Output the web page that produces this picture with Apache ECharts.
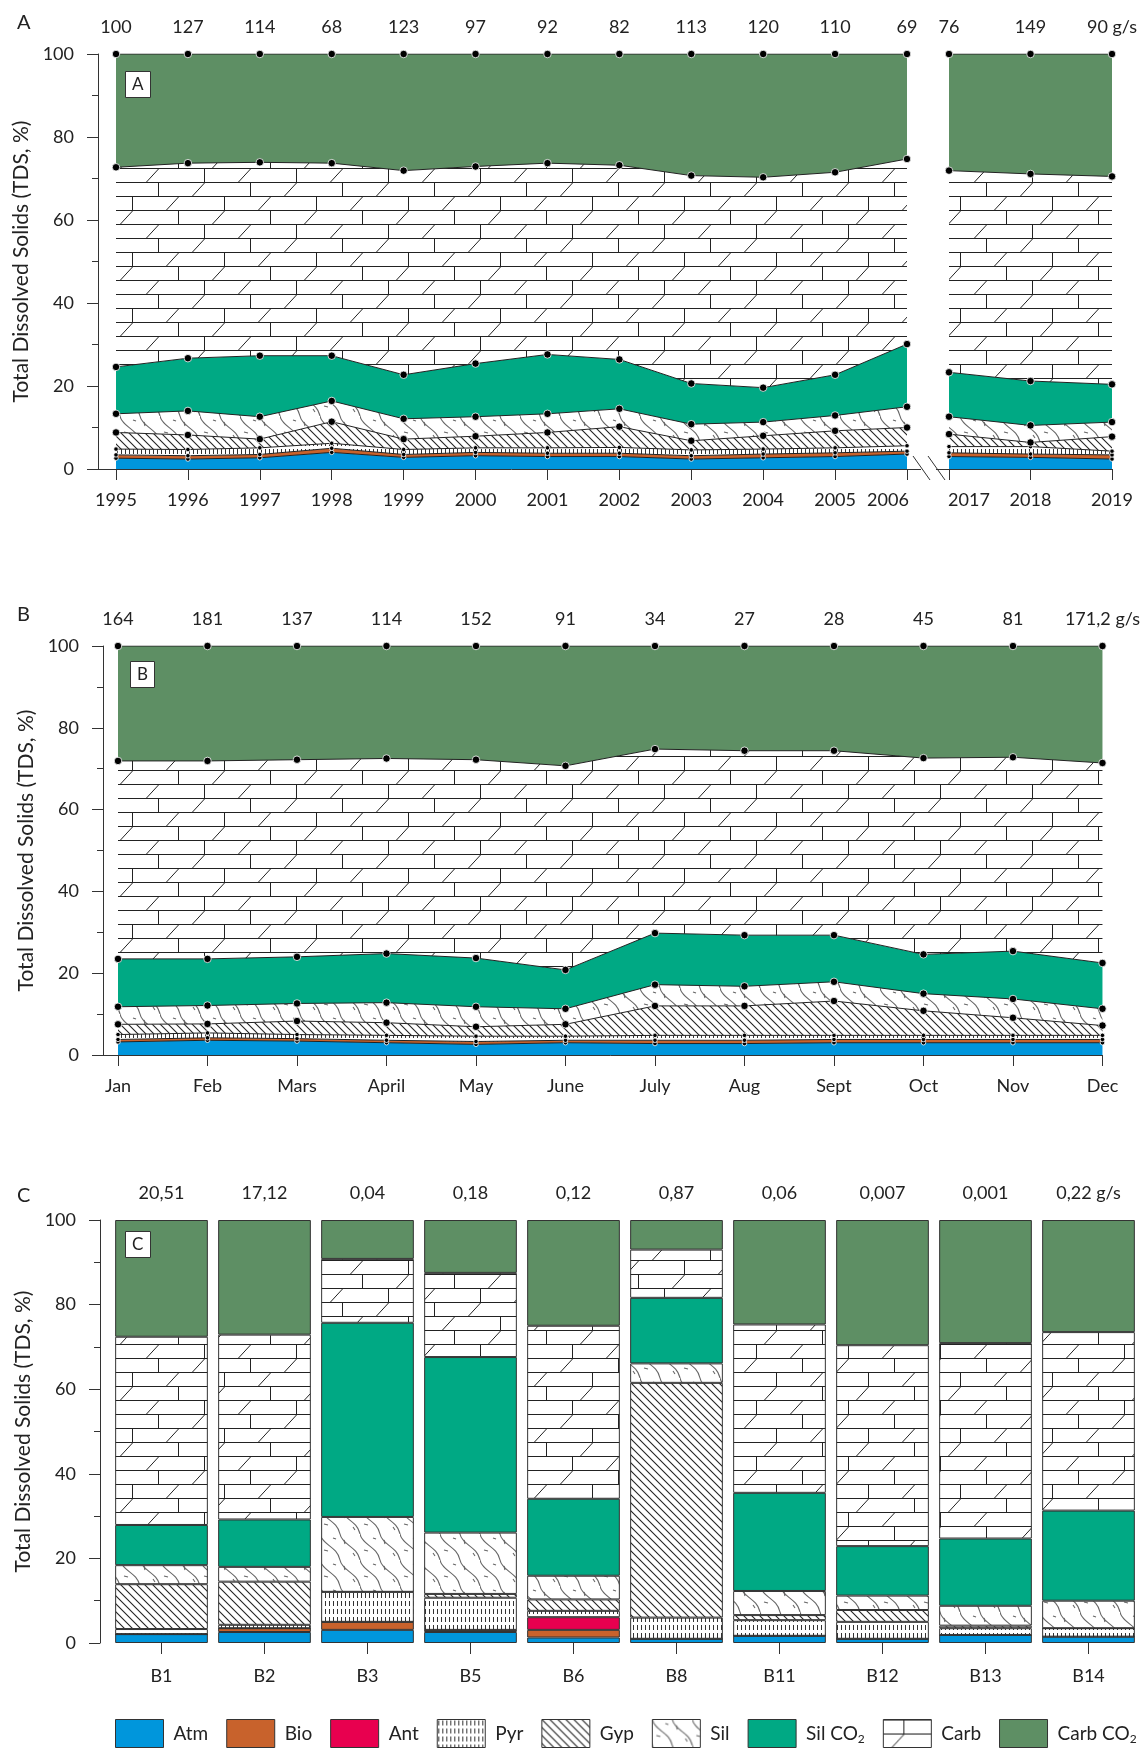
<!DOCTYPE html>
<html>
<head>
<meta charset="utf-8">
<script src="https://cdn.jsdelivr.net/npm/echarts@6/dist/echarts.min.js"></script>
<style>
  html, body { margin: 0; padding: 0; background: #fff; }
  #chart { width: 1143px; height: 1750px; }
</style>
</head>
<body>
<div id="chart"></div>
<script>
const FONT = 'Lato'

// ---- panel A : yearly, 1995-2006 and 2017-2019 (% of TDS)
const yearsA = ['1995', '1996', '1997', '1998', '1999', '2000', '2001', '2002', '2003', '2004', '2005', '2006', '2017', '2018', '2019']
const fluxA = ['100', '127', '114', '68', '123', '97', '92', '82', '113', '120', '110', '69', '76', '149', '90 g/s']
const atmA = [2.6, 2.4, 2.7, 4.0, 2.8, 3.2, 3.0, 3.0, 2.4, 2.7, 3.0, 3.6, 3.0, 2.8, 2.4]
const bioA = [0.8, 0.8, 0.8, 1.0, 0.7, 0.8, 0.8, 0.8, 0.8, 0.9, 0.9, 0.7, 0.9, 0.8, 1.0]
const pyrA = [1.4, 1.5, 1.6, 1.2, 1.2, 1.1, 1.3, 1.4, 1.4, 1.2, 1.2, 1.3, 1.5, 1.8, 0.9]
const gypA = [4.0, 3.5, 2.1, 5.2, 2.5, 2.8, 3.7, 5.0, 2.2, 3.2, 4.1, 4.4, 3.0, 1.0, 3.5]
const silA = [4.5, 5.8, 5.4, 5.0, 4.9, 4.7, 4.5, 4.3, 4.0, 3.3, 3.7, 5.0, 4.2, 4.1, 3.5]
const silCo2A = [11.3, 12.7, 14.7, 10.9, 10.6, 12.8, 14.3, 11.9, 9.8, 8.3, 9.8, 15.1, 10.7, 10.7, 9.1]
const carbA = [48.1, 47.0, 46.6, 46.4, 49.2, 47.5, 46.1, 46.8, 50.1, 50.7, 48.8, 44.6, 48.6, 49.9, 50.1]
const carbCo2A = [27.3, 26.3, 26.1, 26.3, 28.1, 27.1, 26.3, 26.8, 29.3, 29.7, 28.5, 25.3, 28.1, 28.9, 29.5]
const splitA = 12 // first 12 years sit before the axis break

// ---- panel B : monthly
const monthsB = ['Jan', 'Feb', 'Mars', 'April', 'May', 'June', 'July', 'Aug', 'Sept', 'Oct', 'Nov', 'Dec']
const fluxB = ['164', '181', '137', '114', '152', '91', '34', '27', '28', '45', '81', '171,2 g/s']
const atmB = [3.2, 3.6, 3.4, 3.0, 2.6, 3.0, 2.8, 2.8, 3.0, 3.0, 3.0, 3.0]
const bioB = [0.6, 0.6, 0.6, 0.6, 0.7, 0.6, 0.8, 0.8, 0.8, 0.8, 0.8, 0.8]
const pyrB = [1.2, 1.2, 1.0, 1.2, 1.3, 1.0, 1.2, 1.2, 1.0, 1.0, 1.0, 1.0]
const gypB = [2.5, 2.2, 3.3, 3.1, 2.3, 2.9, 7.2, 7.2, 8.4, 6.0, 4.3, 2.4]
const silB = [4.3, 4.5, 4.3, 4.9, 4.9, 3.8, 5.2, 4.8, 4.7, 4.2, 4.6, 4.1]
const silCo2B = [11.7, 11.4, 11.4, 12.0, 11.9, 9.5, 12.6, 12.5, 11.4, 9.6, 11.7, 11.2]
const carbB = [48.4, 48.4, 48.2, 47.7, 48.5, 49.9, 45.0, 45.1, 45.1, 48.0, 47.4, 48.9]
const carbCo2B = [28.1, 28.1, 27.8, 27.5, 27.8, 29.3, 25.2, 25.6, 25.6, 27.4, 27.2, 28.6]

// ---- panel C : sampling sites
const sitesC = ['B1', 'B2', 'B3', 'B5', 'B6', 'B8', 'B11', 'B12', 'B13', 'B14']
const fluxC = ['20,51', '17,12', '0,04', '0,18', '0,12', '0,87', '0,06', '0,007', '0,001', '0,22 g/s']
const atmC = [2.1, 2.6, 3.1, 2.6, 1.3, 1.0, 1.7, 1.0, 1.9, 1.5]
const bioC = [0, 0.9, 1.9, 0.5, 1.8, 0, 0, 0, 0, 0]
const antC = [0, 0, 0, 0, 3.0, 0, 0, 0, 0, 0]
const pyrC = [1.2, 0.8, 7.1, 7.6, 1.5, 5.0, 3.7, 4.0, 1.6, 2.0]
const gypC = [10.6, 10.2, 0, 0.9, 2.7, 55.5, 1.2, 2.8, 0.6, 0]
const silC = [4.5, 3.5, 17.7, 14.5, 5.6, 4.6, 5.7, 3.4, 4.7, 6.5]
const silCo2C = [9.5, 11.2, 45.9, 41.5, 18.2, 15.5, 23.2, 11.7, 15.9, 21.3]
const carbC = [44.5, 43.7, 15.1, 19.9, 40.9, 11.4, 39.8, 47.5, 46.2, 42.2]
const carbCo2C = [27.6, 27.1, 9.2, 12.5, 25.0, 7.0, 24.7, 29.6, 29.1, 26.5]

// ---- pattern fills
function tile(w, h, draw) {
  const c = document.createElement('canvas')
  c.width = w; c.height = h
  const ctx = c.getContext('2d')
  ctx.fillStyle = '#fff'
  ctx.fillRect(0, 0, w, h)
  ctx.strokeStyle = '#222'
  ctx.lineWidth = 1
  draw(ctx, w, h)
  return { image: c, repeat: 'repeat' }
}
function seg(ctx, x1, y1, x2, y2) {
  ctx.beginPath(); ctx.moveTo(x1, y1); ctx.lineTo(x2, y2); ctx.stroke()
}

const carbFill = tile(184, 56, (ctx, w) => {
  const rowH = 14
  const joints = [20, 66, 40, 86]
  for (let r = 0; r < 4; r++) {
    const y = r * rowH
    seg(ctx, 0, y + 0.5, w, y + 0.5)
    for (let k = 0; k < 2; k++) {
      const jx = joints[r] + k * 92 + 0.5
      seg(ctx, jx, y, jx, y + rowH)
      const sx = (jx + 34) % w
      seg(ctx, sx, y + rowH, sx + 12, y + 1)
      seg(ctx, sx - w, y + rowH, sx - w + 12, y + 1)
    }
  }
})
const gypFill = tile(8, 8, ctx => {
  ctx.lineWidth = 1.1
  seg(ctx, -1, -1, 9, 9)
  seg(ctx, 7, -1, 9, 1)
  seg(ctx, -1, 7, 1, 9)
})
const silFill = tile(40, 26, ctx => {
  ctx.strokeStyle = '#666'
  ctx.lineWidth = 1.1
  for (let x0 = -20; x0 <= 20; x0 += 20) {
    ctx.beginPath()
    ctx.moveTo(x0, 0)
    ctx.bezierCurveTo(x0 + 2, 11, x0 + 17, 12, x0 + 20, 26)
    ctx.stroke()
  }
  ;[[4, 16, 8, 17], [24, 6, 25, 10], [13, 4, 16, 5], [33, 19, 35, 22]].forEach(d => seg(ctx, ...d))
})
const pyrFill = tile(4, 8, ctx => {
  ctx.strokeStyle = '#333'
  seg(ctx, 1.5, 1, 1.5, 6)
})

const layers = [
  { name: 'Atm', fill: '#0096dc', a: atmA, b: atmB, c: atmC, small: true },
  { name: 'Bio', fill: '#c8622c', a: bioA, b: bioB, c: bioC, small: true },
  { name: 'Ant', fill: '#e8004f', a: null, b: null, c: antC, small: true },
  { name: 'Pyr', fill: pyrFill, a: pyrA, b: pyrB, c: pyrC, small: true },
  { name: 'Gyp', fill: gypFill, a: gypA, b: gypB, c: gypC },
  { name: 'Sil', fill: silFill, a: silA, b: silB, c: silC },
  { name: 'Sil CO2', fill: '#00a984', a: silCo2A, b: silCo2B, c: silCo2C },
  { name: 'Carb', fill: carbFill, a: carbA, b: carbB, c: carbC },
  { name: 'Carb CO2', fill: '#5e8f64', a: carbCo2A, b: carbCo2B, c: carbCo2C }
]

const series = []
// bars first so the legend takes its icons from them
for (const l of layers) {
  series.push({
    type: 'bar', name: l.name, stack: 'c', xAxisIndex: 6, yAxisIndex: 3,
    barWidth: '90%', data: l.c,
    itemStyle: { color: l.fill, borderColor: '#333', borderWidth: 1 }
  })
}
function areaSeries(l, values, xIdx, yIdx, stack) {
  return {
    type: 'line', name: l.name, stack, xAxisIndex: xIdx, yAxisIndex: yIdx,
    data: values,
    symbol: 'circle', symbolSize: l.small ? 4.5 : 7.5, showAllSymbol: true,
    itemStyle: { color: '#000', borderColor: '#fff', borderWidth: 0.8 },
    lineStyle: { color: '#222', width: 1 },
    areaStyle: { color: l.fill, opacity: 1 }
  }
}
for (const l of layers) {
  if (!l.a) continue
  series.push(areaSeries(l, l.a.slice(0, splitA), 0, 0, 'a1'))
  series.push(areaSeries(l, l.a.slice(splitA), 2, 1, 'a2'))
  series.push(areaSeries(l, l.b, 4, 2, 'b'))
}

const txt = { fontFamily: FONT, color: '#222' }
const axisColor = '#333'
const yAxisBase = {
  type: 'value', min: 0, max: 100, interval: 20,
  axisLine: { show: true, lineStyle: { color: axisColor } },
  axisTick: { show: true, length: 11, lineStyle: { color: axisColor } },
  minorTick: { show: true, splitNumber: 2, length: 6, lineStyle: { color: axisColor } },
  splitLine: { show: false },
  axisLabel: { ...txt, fontSize: 18, margin: 24 },
  name: 'Total Dissolved Solids (TDS, %)', nameLocation: 'middle', nameGap: 54,
  nameTextStyle: { ...txt, fontSize: 21 }
}
function catX(grid, labels, top, rich) {
  return {
    type: 'category', gridIndex: grid, data: labels, boundaryGap: false,
    position: top ? 'top' : 'bottom',
    axisLine: { show: !top, onZero: false, lineStyle: { color: axisColor } },
    axisTick: { show: !top, length: 11, lineStyle: { color: axisColor } },
    axisLabel: {
      ...txt, fontSize: 18, margin: top ? 18 : 22, interval: 0,
      formatter: rich ? (v => rich[v] ? `{${rich[v]}|${v}}` : v) : '{value}',
      rich: { l: { ...txt, fontSize: 18, padding: [0, 38, 0, 0] }, r: { ...txt, fontSize: 18, padding: [0, 0, 0, 40] } }
    }
  }
}
const axisY = { A: 469.5, B: 1055.5 }
const axisLine = (x1, x2, y) => ({
  type: 'line', shape: { x1, y1: y, x2, y2: y }, style: { stroke: axisColor, lineWidth: 1 }
})

const option = {
  animation: false,
  backgroundColor: '#fff',
  title: [
    { text: 'A', left: 12, top: 8, textStyle: { ...txt, fontSize: 20, fontWeight: 'normal' } },
    { text: 'B', left: 12, top: 600, textStyle: { ...txt, fontSize: 20, fontWeight: 'normal' } },
    { text: 'C', left: 12, top: 1181, textStyle: { ...txt, fontSize: 20, fontWeight: 'normal' } },
    { text: 'A', left: 125, top: 71, padding: [5, 7], backgroundColor: '#fff', borderColor: '#333', borderWidth: 1,
      textStyle: { ...txt, fontSize: 17, fontWeight: 'normal' } },
    { text: 'B', left: 130, top: 661, padding: [5, 7], backgroundColor: '#fff', borderColor: '#333', borderWidth: 1,
      textStyle: { ...txt, fontSize: 17, fontWeight: 'normal' } },
    { text: 'C', left: 125, top: 1231, padding: [5, 7], backgroundColor: '#fff', borderColor: '#333', borderWidth: 1,
      textStyle: { ...txt, fontSize: 17, fontWeight: 'normal' } }
  ],
  legend: {
    data: layers.map(l => l.name),
    left: 110, top: 1714, width: 1100, itemWidth: 48, itemHeight: 28, itemGap: 18,
    icon: 'rect',
    itemStyle: { borderColor: '#333', borderWidth: 1 },
    formatter: n => n.endsWith('CO2') ? `{t|${n.slice(0, -1)}}{s|2}` : n,
    textStyle: {
      ...txt, fontSize: 19, padding: [0, 0, 0, 5],
      rich: { t: { ...txt, fontSize: 19 }, s: { ...txt, fontSize: 12, padding: [12, 0, 0, 0] } }
    }
  },
  grid: [
    { left: 116, top: 54, height: 415, right: 236 },
    { left: 949, top: 54, height: 415, right: 31 },
    { left: 118, top: 646, height: 409, right: 40 },
    { left: 110, top: 1220, height: 423, right: 3 }
  ],
  xAxis: [
    catX(0, yearsA.slice(0, splitA), false, { '2006': 'l' }),
    catX(0, fluxA.slice(0, splitA), true),
    catX(1, yearsA.slice(splitA), false, { '2017': 'r' }),
    catX(1, fluxA.slice(splitA), true),
    catX(2, monthsB, false),
    catX(2, fluxB, true),
    {
      type: 'category', gridIndex: 3, data: sitesC,
      axisLine: { show: false },
      axisTick: { show: true, alignWithLabel: true, length: 11, lineStyle: { color: axisColor } },
      axisLabel: { ...txt, fontSize: 18, margin: 24 }
    },
    {
      type: 'category', gridIndex: 3, data: fluxC, position: 'top',
      axisLine: { show: false }, axisTick: { show: false },
      axisLabel: { ...txt, fontSize: 18, margin: 18 }
    }
  ],
  yAxis: [
    { ...yAxisBase, gridIndex: 0, offset: 18 },
    { ...yAxisBase, gridIndex: 1, show: false },
    { ...yAxisBase, gridIndex: 2, offset: 15, nameGap: 50 },
    { ...yAxisBase, gridIndex: 3, offset: 10 }
  ],
  graphic: [
    // axis line pieces outside the first/last category and the break marks
    axisLine(98, 116, axisY.A),
    axisLine(907, 921, axisY.A),
    axisLine(936, 949, axisY.A),
    axisLine(103, 118, axisY.B),
    { type: 'line', shape: { x1: 913, y1: 456, x2: 930, y2: 480 }, style: { stroke: axisColor, lineWidth: 1 } },
    { type: 'line', shape: { x1: 928, y1: 456, x2: 945, y2: 480 }, style: { stroke: axisColor, lineWidth: 1 } }
  ],
  series
}

const myChart = echarts.init(document.getElementById('chart'))
myChart.setOption(option)
</script>
</body>
</html>
